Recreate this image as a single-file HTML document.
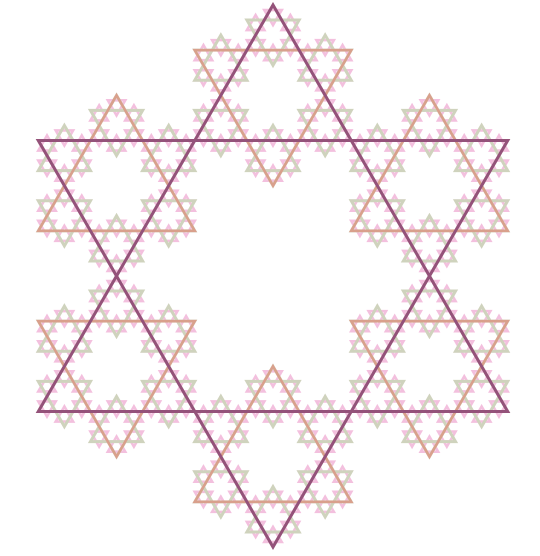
<!DOCTYPE html>
<html><head><meta charset="utf-8"><style>
html,body{margin:0;padding:0;background:#fff;width:540px;height:556px;overflow:hidden}
</style></head><body>
<svg id="fractal" width="540" height="556" viewBox="0 0 540 556" xmlns="http://www.w3.org/2000/svg"></svg>
<script>
const levelColors = ["#94527a", "#d9a08c", "#cfd3bd", "#f3c0de"];
const levelWidths = [3, 2.6, 3, 2.6];
const depths = [0, 1, 2, 3];
const centerX = 273, centerY = 276, radius = 271;
const svg = document.getElementById('fractal');
const NS = 'http://www.w3.org/2000/svg';
const groups = [];
for (let i = depths.length - 1; i >= 0; i--) {
  const g = document.createElementNS(NS, 'g');
  
  
  g.setAttribute('fill', 'none');
  g.setAttribute('stroke', levelColors[i]);
  g.setAttribute('stroke-width', levelWidths[i]);
  g.setAttribute('stroke-linejoin', 'miter');
  svg.appendChild(g);
  groups[i] = g;
}
function pt(cx, cy, r, deg) {
  const a = deg * Math.PI / 180;
  return [cx + r * Math.cos(a), cy - r * Math.sin(a)];
}
function hexagram(cx, cy, r, level) {
  [90, 270].forEach(start => {
    const pts = [0, 120, 240].map(d => pt(cx, cy, r, start + d));
    const p = document.createElementNS(NS, 'polygon');
    
    
    p.setAttribute('points', pts.map(q => q[0].toFixed(2) + ',' + q[1].toFixed(2)).join(' '));
    groups[level].appendChild(p);
  });
  if (level + 1 < depths.length) {
    for (let k = 0; k < 6; k++) {
      const c = pt(cx, cy, 2 * r / 3, 90 + 60 * k);
      hexagram(c[0], c[1], r / 3, level + 1);
    }
  }
}
hexagram(centerX, centerY, radius, 0);
</script>
</body></html>
